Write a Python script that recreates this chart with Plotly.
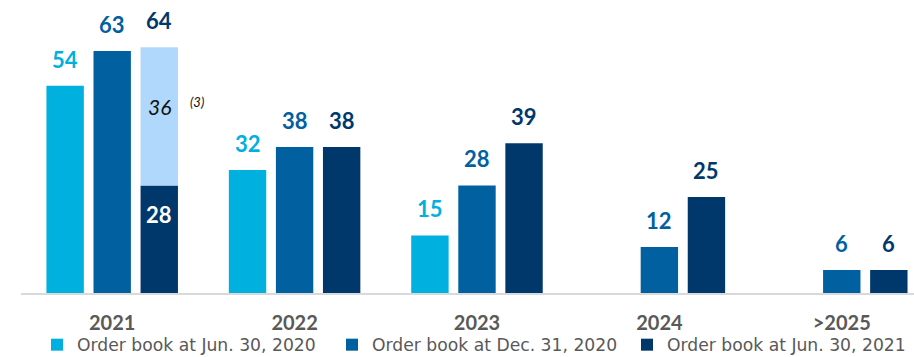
import plotly.graph_objects as go

# Order book by delivery year (units)
categories = ["2021", "2022", "2023", "2024", ">2025"]
jun_2020 = [54, 32, 15, None, None]
dec_2020 = [63, 38, 28, 12, 6]
jun_2021 = [28, 38, 39, 25, 6]          # remaining at Jun. 30, 2021
jun_2021_delivered = [36, None, None, None, None]  # delivered in H1 2021, footnote (3)
jun_2021_totals = [64, 38, 39, 25, 6]

series_names = ["Order book at Jun. 30, 2020", "Order book at Dec. 31, 2020", "Order book at Jun. 30, 2021"]
colors = ["#00B0DE", "#0060A0", "#00386C"]
pale = "#B0D8FC"

slot = 0.258
bar_w = 0.205
font_family = "Lato, 'Liberation Sans', Arial, sans-serif"
legend_family = "'DejaVu Sans', sans-serif"

idx = list(range(len(categories)))

def xs(i):
    return [k + (i - 1) * slot for k in idx]

fig = go.Figure()

for i, (name, vals) in enumerate(zip(series_names, [jun_2020, dec_2020, jun_2021])):
    fig.add_trace(go.Bar(
        x=xs(i), y=vals, width=bar_w, name=name,
        marker=dict(color=colors[i], line=dict(width=0)),
        hoverinfo="skip",
    ))

# Delivered part of the 2021 order book, stacked on top of the remaining part
fig.add_trace(go.Bar(
    x=xs(2), y=jun_2021_delivered, base=jun_2021, width=bar_w,
    marker=dict(color=pale, line=dict(width=0)), showlegend=False, hoverinfo="skip",
))

annotations = []
label_font = dict(family=font_family, size=22)
for i, vals in enumerate([jun_2020, dec_2020, jun_2021_totals]):
    for k, v in zip(xs(i), vals):
        if v is None:
            continue
        annotations.append(dict(
            x=k, y=v, text=f"<b>{v}</b>", showarrow=False, yanchor="bottom",
            yshift=11, font=dict(label_font, color=colors[i]),
        ))

# Labels inside the stacked 2021 bar
x21 = xs(2)[0]
annotations.append(dict(
    x=x21, y=jun_2021[0], text=f"<b>{jun_2021[0]}</b>", showarrow=False,
    yanchor="top", yshift=-14, font=dict(label_font, color="white"),
))
annotations.append(dict(
    x=x21, y=jun_2021[0] + jun_2021_delivered[0] / 2, text=f"<i>{jun_2021_delivered[0]}</i>",
    showarrow=False, yanchor="middle", yshift=10, font=dict(family=font_family, size=21, color="#111111"),
))
annotations.append(dict(
    x=x21 + bar_w / 2, y=jun_2021[0] + jun_2021_delivered[0] / 2, text="<i>(3)</i>",
    showarrow=False, xanchor="left", yanchor="middle", xshift=10, yshift=14,
    font=dict(family=font_family, size=13, color="#111111"),
))

fig.update_layout(
    width=914, height=357,
    margin=dict(l=21, r=0, t=0, b=64, autoexpand=False),
    barmode="overlay",
    plot_bgcolor="white", paper_bgcolor="white",
    showlegend=True,
    legend=dict(
        orientation="h", xref="container", x=37 / 914, xanchor="left",
        yref="container", y=12 / 357, yanchor="middle",
        font=dict(family=legend_family, size=17.2, color="#595959"),
        entrywidthmode="pixels", entrywidth=250, itemwidth=30,
        bgcolor="rgba(0,0,0,0)",
    ),
    annotations=annotations,
    xaxis=dict(
        range=[-0.5, 4.396], tickmode="array", tickvals=idx,
        ticktext=[f"<b>{c}</b>" for c in categories],
        tickfont=dict(family=font_family, size=20, color="#595959"),
        ticks="outside", ticklen=11, tickcolor="rgba(0,0,0,0)",
        showgrid=False, zeroline=False,
        showline=True, linecolor="#D9D9D9", linewidth=2,
    ),
    yaxis=dict(range=[0, 76.3], visible=False, showgrid=False, zeroline=False),
)

fig.write_html("out.html")
